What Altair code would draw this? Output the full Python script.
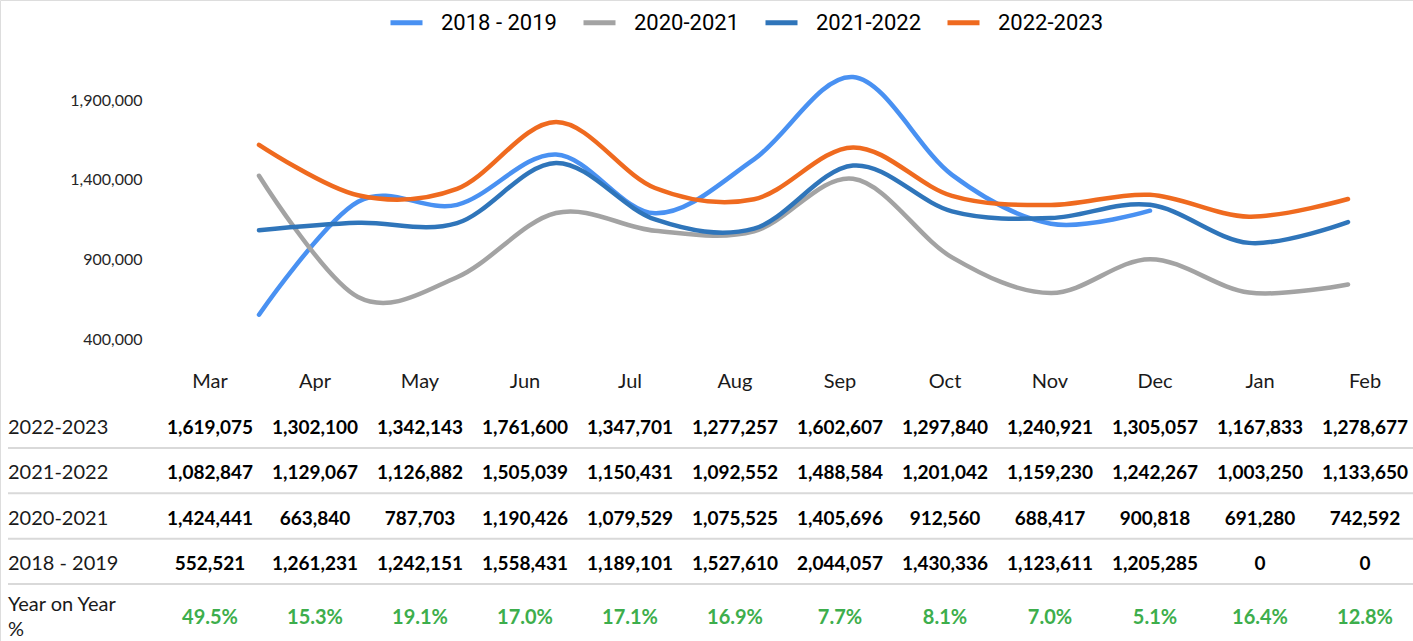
import altair as alt
import pandas as pd

months = ["Mar", "Apr", "May", "Jun", "Jul", "Aug", "Sep", "Oct", "Nov", "Dec", "Jan", "Feb"]
series = ["2018 - 2019", "2020-2021", "2021-2022", "2022-2023"]
table_order = ["2022-2023", "2021-2022", "2020-2021", "2018 - 2019"]

v2018 = [552521, 1261231, 1242151, 1558431, 1189101, 1527610, 2044057, 1430336, 1123611, 1205285, 0, 0]
v2020 = [1424441, 663840, 787703, 1190426, 1079529, 1075525, 1405696, 912560, 688417, 900818, 691280, 742592]
v2021 = [1082847, 1129067, 1126882, 1505039, 1150431, 1092552, 1488584, 1201042, 1159230, 1242267, 1003250, 1133650]
v2022 = [1619075, 1302100, 1342143, 1761600, 1347701, 1277257, 1602607, 1297840, 1240921, 1305057, 1167833, 1278677]
yoy = ["49.5%", "15.3%", "19.1%", "17.0%", "17.1%", "16.9%", "7.7%", "8.1%", "7.0%", "5.1%", "16.4%", "12.8%"]
y_ticks = [400000, 900000, 1400000, 1900000]
yoy_title = "Year on Year\n%"

colors = ["#4991F2", "#A3A3A3", "#2F75BA", "#EF6A1F"]

values = {"2018 - 2019": v2018, "2020-2021": v2020, "2021-2022": v2021, "2022-2023": v2022}
rows = []
for s in series:
    for i, m in enumerate(months):
        v = values[s][i]
        rows.append({"series": s, "month": m, "mi": i, "value": v, "label": f"{v:,}"})
df = pd.DataFrame(rows)

df_months = pd.DataFrame({"month": months, "yoy": yoy})
df_rows = pd.DataFrame({"series": table_order})
df_yoy_title = pd.DataFrame({"t": [yoy_title]})

FONT = "Lato"

x_line = alt.Scale(type="point", domain=months, range=[259, 1348], padding=0)
x_tab = alt.Scale(type="point", domain=months, range=[210, 1365], padding=0)
y_tab = alt.Scale(type="point", domain=table_order, range=[428, 564], padding=0)

lines = alt.Chart(df).transform_filter("datum.value > 0").mark_line(
    interpolate="cardinal", strokeWidth=4.5, strokeCap="round"
).encode(
    x=alt.X("month:N", scale=x_line, axis=None),
    y=alt.Y(
        "value:Q",
        scale=alt.Scale(domain=[400000, 1900000], range=[339, 100], nice=False, zero=False),
        axis=alt.Axis(
            values=y_ticks, labelExpr="format(datum.value, ',')", domain=False, ticks=False, grid=False,
            labelFont=FONT, labelFontSize=16, labelColor="#262626",
            labelPadding=8, offset=-150, title=None,
        ),
    ),
    color=alt.Color(
        "series:N",
        scale=alt.Scale(domain=series, range=colors),
        legend=alt.Legend(
            orient="none", legendX=388, legendY=4, direction="horizontal", title=None,
            symbolType="stroke", symbolStrokeWidth=5, symbolSize=1024,
            labelFont="Roboto", labelFontSize=22, labelColor="#000000",
            labelOffset=16, columnPadding=16,
        ),
    ),
    order=alt.Order("mi:Q"),
)

headers = alt.Chart(df_months).mark_text(font=FONT, fontSize=20, color="#1a1a1a").encode(
    x=alt.X("month:N", scale=x_tab, axis=None),
    y=alt.value(382),
    text="month:N",
)

cells = alt.Chart(df).mark_text(font=FONT, fontSize=19, fontWeight="bold", color="#000000").encode(
    x=alt.X("month:N", scale=x_tab, axis=None),
    y=alt.Y("series:N", scale=y_tab, axis=None),
    text="label:N",
)

row_labels = alt.Chart(df_rows).mark_text(font=FONT, fontSize=20, color="#1a1a1a", align="left").encode(
    x=alt.value(8),
    y=alt.Y("series:N", scale=y_tab, axis=None),
    text="series:N",
)

seps = alt.Chart(df_rows).mark_rule(yOffset=20, strokeWidth=2, color="#D9D9D9").encode(
    x=alt.value(8),
    x2=alt.value(1413),
    y=alt.Y("series:N", scale=y_tab, axis=None),
)

yoy_vals = alt.Chart(df_months).mark_text(font=FONT, fontSize=20, fontWeight="bold", color="#3DAE4C").encode(
    x=alt.X("month:N", scale=x_tab, axis=None),
    y=alt.value(618),
    text="yoy:N",
)

yoy_label = alt.Chart(df_yoy_title).mark_text(
    font=FONT, fontSize=20, color="#1a1a1a", align="left", baseline="middle",
    lineBreak="\n", lineHeight=25,
).encode(
    x=alt.value(8),
    y=alt.value(605),
    text="t:N",
)

chart = alt.layer(seps, lines, headers, cells, row_labels, yoy_vals, yoy_label).resolve_scale(
    x="independent", y="independent"
).properties(
    width=1413, height=641, autosize=alt.AutoSizeParams(type="none"), padding=0
).configure_view(stroke=None).configure(background="white").configure_axis(
    labelFontSize=16, labelFont=FONT, labelColor="#262626"
)

chart.save("out.html", embed_options={"renderer": "svg", "actions": False})
